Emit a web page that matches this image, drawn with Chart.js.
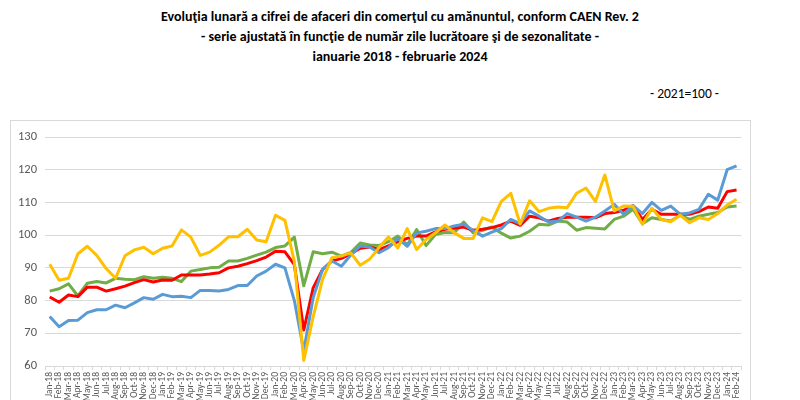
<!DOCTYPE html>
<html>
<head>
<meta charset="utf-8">
<script src="https://cdn.jsdelivr.net/npm/chart.js@4"></script>
<style>
  body { margin: 0; background: #fff; width: 800px; height: 400px; overflow: hidden; position: relative; font-family: Carlito, Calibri, Lato, sans-serif; }
  #title { position: absolute; left: 0; top: 7px; width: 800px; text-align: center; font-weight: bold; font-size: 14px; line-height: 20px; color: #000; }
  #base { position: absolute; left: 650px; top: 85px; font-size: 13.5px; color: #000; }
  #box { position: absolute; left: 10px; top: 120px; width: 739px; height: 300px; border: 1px solid #d9d9d9; }
  #chart { display: block; }
</style>
</head>
<body>
<div id="title">
  Evoluţia lunară a cifrei de afaceri din comerţul cu amănuntul, conform CAEN Rev. 2<br>
  - serie ajustată în funcţie de număr zile lucrătoare şi de sezonalitate -<br>
  ianuarie 2018 - februarie 2024
</div>
<div id="base">- 2021=100 -</div>
<div id="box"><canvas id="chart" width="739" height="300"></canvas></div>

<script>
// ETICHETE LUNI (Jan-18 ... Feb-24)
const monthNames = ["Jan", "Feb", "Mar", "Apr", "May", "Jun", "Jul", "Aug", "Sep", "Oct", "Nov", "Dec"];
const years = ["18", "19", "20", "21", "22", "23", "24"];
const labels = [];
years.forEach(y => {
    monthNames.forEach(m => {
        if (labels.length < 74) labels.push(m + "-" + y);
    });
});

// SERII (2021=100)
const nealimentare = [
    75.1, 72.0, 73.9, 74.0, 76.3, 77.2, 77.2, 78.6, 77.8, 79.3, 80.9, 80.4,
    81.9, 81.2, 81.3, 80.9, 83.1, 83.1, 82.9, 83.4, 84.6, 84.6, 87.5, 89.0,
    91.1, 90.0, 80.0, 64.6, 80.9, 89.5, 92.1, 90.5, 93.9, 96.7, 96.4, 94.6,
    96.2, 99.0, 96.6, 100.7, 101.2, 102.0, 102.0, 102.8, 103.3, 101.4, 99.7, 100.9,
    102.0, 104.8, 103.5, 107.4, 105.8, 104.0, 104.3, 106.6, 105.5, 104.3, 105.5, 107.4,
    109.4, 106.4, 109.0, 106.6, 110.0, 107.6, 108.9, 106.4, 106.8, 107.9, 112.5, 110.7,
    120.0, 121.2
];
const total = [
    81.1, 79.5, 81.7, 81.2, 84.1, 84.1, 82.9, 83.6, 84.4, 85.5, 86.4, 85.7,
    86.3, 86.2, 87.8, 87.8, 87.8, 88.1, 88.5, 90.0, 90.5, 91.3, 92.2, 93.3,
    95.1, 94.9, 91.0, 71.0, 83.9, 89.5, 92.1, 92.9, 94.3, 96.0, 96.4, 95.6,
    96.7, 98.0, 99.0, 99.7, 99.7, 101.0, 101.8, 102.1, 102.5, 101.5, 101.8, 102.3,
    103.1, 104.3, 103.0, 105.8, 105.3, 104.3, 105.1, 105.5, 105.5, 105.5, 105.3, 106.6,
    106.9, 107.6, 109.0, 104.8, 107.9, 106.4, 106.4, 106.4, 106.4, 107.2, 108.6, 108.2,
    113.3, 113.8
];
const alimentare = [
    82.9, 83.6, 85.1, 81.4, 85.3, 85.8, 85.4, 86.8, 86.5, 86.4, 87.3, 86.8,
    87.1, 86.8, 85.8, 89.0, 89.5, 90.0, 90.2, 92.1, 92.1, 92.9, 93.9, 94.8,
    96.2, 96.7, 99.4, 84.5, 94.9, 94.3, 94.8, 93.6, 94.7, 97.6, 97.0, 96.8,
    98.0, 99.7, 97.0, 101.7, 96.8, 100.2, 100.8, 100.7, 104.0, 100.7, 101.5, 102.5,
    100.6, 99.1, 99.7, 101.2, 103.3, 103.1, 104.3, 104.0, 101.5, 102.3, 102.1, 101.9,
    104.8, 105.8, 107.9, 103.5, 105.3, 104.8, 104.3, 106.1, 104.8, 105.8, 106.4, 106.9,
    108.6, 108.9
];
const carburanti = [
    91.1, 86.2, 86.8, 94.3, 96.6, 93.8, 89.8, 86.8, 93.7, 95.5, 96.3, 94.3,
    96.0, 96.7, 101.6, 99.4, 93.8, 94.8, 96.9, 99.5, 99.5, 101.8, 98.5, 98.0,
    106.1, 104.5, 92.0, 61.7, 75.0, 86.5, 93.1, 93.6, 94.6, 90.8, 92.6, 96.2,
    99.4, 96.1, 102.0, 95.6, 98.7, 100.7, 103.1, 100.7, 99.0, 99.0, 105.3, 104.1,
    110.3, 112.8, 103.4, 110.5, 107.2, 108.2, 108.6, 108.4, 112.8, 114.4, 110.3, 118.4,
    107.4, 108.9, 108.8, 103.3, 108.2, 104.8, 104.1, 106.1, 103.8, 105.3, 104.8, 106.6,
    109.2, 111.0
];

// GRAFIC
function serie(label, data, color) {
    return {
        label: label,
        data: data,
        borderColor: color,
        backgroundColor: color,
        borderWidth: 3,
        pointRadius: 0,
        tension: 0,
        borderJoinStyle: "round"
    };
}

const axisFont = { family: "Carlito, Calibri, Lato, sans-serif" };

new Chart(document.getElementById("chart"), {
    type: "line",
    data: {
        labels: labels,
        datasets: [
            serie("Carburanţi", carburanti, "#ffc000"),
            serie("Produse nealimentare", nealimentare, "#5b9bd5"),
            serie("Total", total, "#ff0000"),
            serie("Produse alimentare, băuturi şi tutun", alimentare, "#70ad47")
        ]
    },
    options: {
        responsive: false,
        animation: false,
        layout: { padding: { top: 16, right: 5, left: 0, bottom: 0 } },
        plugins: {
            legend: { display: false },
            tooltip: { enabled: false }
        },
        scales: {
            x: {
                offset: true,
                grid: {
                    offset: true,
                    drawOnChartArea: false,
                    drawTicks: true,
                    tickLength: 4,
                    color: "#d9d9d9"
                },
                border: { color: "#d9d9d9" },
                ticks: {
                    autoSkip: false,
                    minRotation: 90,
                    maxRotation: 90,
                    padding: 2,
                    color: "#595959",
                    font: { ...axisFont, size: 9.5 }
                },
                afterFit: scale => { scale.height = 55; }
            },
            y: {
                min: 60,
                max: 130,
                ticks: {
                    stepSize: 10,
                    padding: 8,
                    color: "#595959",
                    font: { ...axisFont, size: 12.5 }
                },
                grid: { color: "#d9d9d9", drawTicks: false },
                border: { display: false },
                afterFit: scale => { scale.width = 34; }
            }
        }
    }
});
</script>
</body>
</html>
